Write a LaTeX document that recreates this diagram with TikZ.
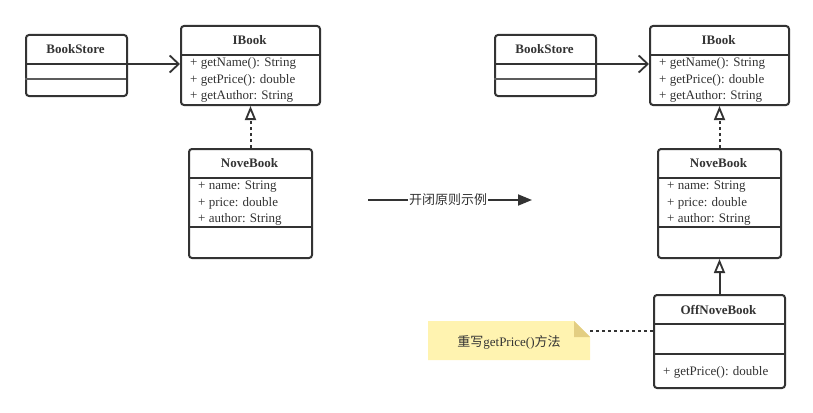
\documentclass[tikz,border=0pt]{standalone}
\usepackage{fontspec}
\setmainfont{Liberation Serif}
\newfontfamily\cjk{Noto Sans CJK SC}
\usetikzlibrary{arrows.meta,calc}
\definecolor{ln}{HTML}{333333}
\definecolor{notefill}{HTML}{FFF3B0}
\definecolor{notefold}{HTML}{E3CE82}
\tikzset{
  box/.style={draw=ln, line width=2pt, rounded corners=3pt, fill=white, inner sep=0pt, anchor=north west},
  sep/.style={draw=ln, line width=2pt},
  ttl/.style={font=\fontsize{13}{15}\selectfont\bfseries, text=ln, inner sep=0pt},
  attr/.style={font=\fontsize{13}{15}\selectfont, text=ln, inner sep=0pt, anchor=west},
  assoc/.style={draw=ln, line width=2pt, -{Straight Barb[length=9pt,width=17pt,line width=1.8pt]}},
  realize/.style={draw=ln, line width=2pt, dash pattern=on 3pt off 3pt, -{Triangle[open,length=14pt,width=11pt,line width=1.8pt]}},
  inherit/.style={draw=ln, line width=2pt, -{Triangle[open,length=14pt,width=11pt,line width=1.8pt]}},
  notelink/.style={draw=ln, line width=2pt, dash pattern=on 3pt off 3pt},
}
\begin{document}
\begin{tikzpicture}[x=1pt,y=-1pt]
\useasboundingbox (0,0) rectangle (813,412);
% ---------- left BookStore ----------
\node[box, minimum width=101pt, minimum height=61pt] (bsL) at (25,34) {};
\node[ttl] (bsLt) at (75.5,49.5) {BookStore};
\draw[sep] (25,64) -- (126,64);
\draw[sep, draw=ln!80] (25,79) -- (126,79);
% ---------- left IBook ----------
\node[box, minimum width=139pt, minimum height=79pt] (ibL) at (180,25) {};
\node[ttl] (ibLt) at (249.5,40.5) {IBook};
\draw[sep] (180,55) -- (319,55);
\node[attr] (ibL1) at (190,63.5) {+ getName(): String};
\node[attr] (ibL2) at (190,80) {+ getPrice(): double};
\node[attr] (ibL3) at (190,96.5) {+ getAuthor: String};
% ---------- left NoveBook ----------
\node[box, minimum width=123pt, minimum height=109pt] (nbL) at (188,148) {};
\node[ttl] (nbLt) at (249.5,163.5) {NoveBook};
\draw[sep] (188,178) -- (311,178);
\node[attr] (nbL1) at (198,187) {+ name: String};
\node[attr] (nbL2) at (198,203.5) {+ price: double};
\node[attr] (nbL3) at (198,219.5) {+ author: String};
\draw[sep] (188,227) -- (311,227);
% connectors left
\draw[assoc] (bsL.east |- 0,64) -- (ibL.west |- 0,64);
\draw[realize] (nbL.north) -- (ibL.south -| nbL.north);
% ---------- middle arrow ----------
\node[font=\cjk\fontsize{13}{15}\selectfont, text=ln, inner sep=1pt, fill=white] (mid) at (448,200) {开闭原则示例};
\coordinate (ms) at (368,200);
\coordinate (me) at (532,200);
\draw[draw=ln, line width=1.8pt] (ms) -- (mid.west);
\draw[draw=ln, line width=1.8pt, -{Triangle[length=14pt,width=11pt]}] (mid.east) -- (me);
% ---------- right BookStore ----------
\node[box, minimum width=101pt, minimum height=61pt] (bsR) at (494,34) {};
\node[ttl] (bsRt) at (544.5,49.5) {BookStore};
\draw[sep] (494,64) -- (595,64);
\draw[sep, draw=ln!80] (494,79) -- (595,79);
% ---------- right IBook ----------
\node[box, minimum width=139pt, minimum height=79pt] (ibR) at (649,25) {};
\node[ttl] (ibRt) at (718.5,40.5) {IBook};
\draw[sep] (649,55) -- (788,55);
\node[attr] (ibR1) at (659,63.5) {+ getName(): String};
\node[attr] (ibR2) at (659,80) {+ getPrice(): double};
\node[attr] (ibR3) at (659,96.5) {+ getAuthor: String};
% ---------- right NoveBook ----------
\node[box, minimum width=123pt, minimum height=109pt] (nbR) at (657,148) {};
\node[ttl] (nbRt) at (718.5,163.5) {NoveBook};
\draw[sep] (657,178) -- (780,178);
\node[attr] (nbR1) at (667,187) {+ name: String};
\node[attr] (nbR2) at (667,203.5) {+ price: double};
\node[attr] (nbR3) at (667,219.5) {+ author: String};
\draw[sep] (657,227) -- (780,227);
% ---------- OffNoveBook ----------
\node[box, minimum width=131pt, minimum height=93pt] (off) at (653,294) {};
\node[ttl] (offt) at (718.5,309.5) {OffNoveBook};
\draw[sep] (653,324) -- (784,324);
\draw[sep] (653,354) -- (784,354);
\node[attr] (off1) at (663,372) {+ getPrice(): double};
% connectors right
\draw[assoc] (bsR.east |- 0,64) -- (ibR.west |- 0,64);
\draw[realize] (nbR.north) -- (ibR.south -| nbR.north);
\draw[inherit] (off.north) -- (nbR.south -| off.north);
% ---------- note ----------
\fill[notefill] (428,321) -- (574,321) -- (590,337) -- (590,360) -- (428,360) -- cycle;
\fill[notefold] (574,321) -- (590,337) -- (574,337) -- cycle;
\coordinate (noteR) at (590,331);
\node[font=\fontsize{13}{15}\selectfont, text=ln, inner sep=0pt] (notet) at (509,342) {{\cjk 重写}getPrice(){\cjk 方法}};
\draw[notelink] (noteR) -- (off.west |- noteR);
\end{tikzpicture}
\end{document}
